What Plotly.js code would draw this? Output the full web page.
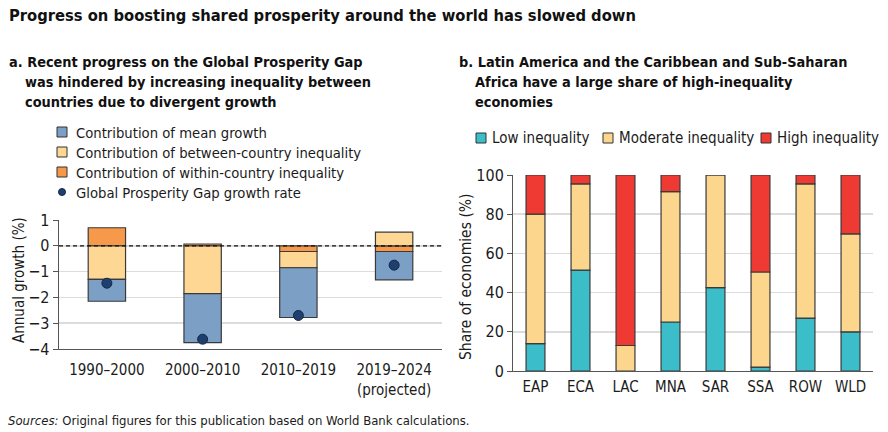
<!DOCTYPE html>
<html>
<head>
<meta charset="utf-8">
<script src="https://cdn.plot.ly/plotly-3.0.1.min.js"></script>
<style>html,body{margin:0;padding:0;background:#fff;}#chart{width:888px;height:432px;}</style>
</head>
<body>
<div id="chart"></div>
<script>
// Panel a data
const periods = ["1990–2000", "2000–2010", "2010–2019", "2019–2024<br>(projected)"];
const meanGrowth = [-0.85, -1.9, -1.93, -1.1];
const betweenIneq = [-1.3, -1.85, -0.63, 0.53];
const withinIneq = [0.7, 0.07, -0.22, -0.22];
const gapGrowth = [-1.45, -3.62, -2.7, -0.75];
const legendA = ["Contribution of mean growth", "Contribution of between-country inequality",
                 "Contribution of within-country inequality", "Global Prosperity Gap growth rate"];

// Panel b data
const regions = ["EAP", "ECA", "LAC", "MNA", "SAR", "SSA", "ROW", "WLD"];
const lowIneq = [14, 51.5, 0, 25, 42.5, 2, 27, 20];
const modIneq = [66, 44, 13, 66.5, 57.5, 48.5, 68.5, 50];
const highIneq = [20, 4.5, 87, 8.5, 0, 49.5, 4.5, 30];
const legendB = ["Low inequality", "Moderate inequality", "High inequality"];

const FONT = "'DejaVu Sans Condensed', 'DejaVu Sans', sans-serif";
const TXT = "#1b1b1b";
const OUT = {color: "#3a3a3a", width: 1.2};
const C_MEAN = "#7b9fc5", C_BETW = "#fed795", C_WITH = "#f6994a", C_DOT = "#1f3f6e";
const C_LOW = "#3bbdca", C_MOD = "#fdd68e", C_HIGH = "#ee3a33";

const traces = [
  {type: "bar", x: periods, y: withinIneq, name: legendA[2], showlegend: false,
   marker: {color: C_WITH, line: OUT}, width: 0.39, xaxis: "x", yaxis: "y"},
  {type: "bar", x: periods, y: betweenIneq, name: legendA[1], showlegend: false,
   marker: {color: C_BETW, line: OUT}, width: 0.39, xaxis: "x", yaxis: "y"},
  {type: "bar", x: periods, y: meanGrowth, name: legendA[0], showlegend: false,
   marker: {color: C_MEAN, line: OUT}, width: 0.39, xaxis: "x", yaxis: "y"},
  {type: "scatter", mode: "markers", x: periods, y: gapGrowth, name: legendA[3], showlegend: false,
   marker: {color: C_DOT, size: 10, line: {color: "#14284a", width: 1}}, xaxis: "x", yaxis: "y"},
  {type: "bar", x: regions, y: lowIneq, name: legendB[0], showlegend: false,
   marker: {color: C_LOW, line: OUT}, width: 0.42, xaxis: "x2", yaxis: "y2"},
  {type: "bar", x: regions, y: modIneq, name: legendB[1], showlegend: false,
   marker: {color: C_MOD, line: OUT}, width: 0.42, xaxis: "x2", yaxis: "y2"},
  {type: "bar", x: regions, y: highIneq, name: legendB[2], showlegend: false,
   marker: {color: C_HIGH, line: OUT}, width: 0.42, xaxis: "x2", yaxis: "y2"}
];

const W = 888, H = 432;
const px = v => v / W, py = v => 1 - v / H;

const shapes = [
  {type: "line", xref: "x domain", yref: "y", x0: 0, x1: 1, y0: 0, y1: 0,
   line: {color: "#111", width: 1.2, dash: "4px,3px"}}
];
const annotations = [];
function txt(t, x, y, size, extra) {
  annotations.push(Object.assign({text: t, xref: "paper", yref: "paper", x: px(x), y: py(y),
    xanchor: "left", yanchor: "middle", showarrow: false, align: "left",
    font: {size: size, color: TXT}}, extra || {}));
}
function keyBox(x, yc, color) {
  shapes.push({type: "rect", xref: "paper", yref: "paper", x0: px(x), x1: px(x + 10),
    y0: py(yc + 5), y1: py(yc - 5), fillcolor: color, line: {color: "#333", width: 1}});
}

// Titles
const HEAD = {size: 16.4, color: "#111"}, SUB = {size: 14.4, color: "#111"};
txt("<b>Progress on boosting shared prosperity around the world has slowed down</b>", 7, 16, 0, {font: HEAD});
txt("<b>a. Recent progress on the Global Prosperity Gap</b>", 7, 62, 0, {font: SUB});
txt("<b>was hindered by increasing inequality between</b>", 23, 82, 0, {font: SUB});
txt("<b>countries due to divergent growth</b>", 23, 102, 0, {font: SUB});
txt("<b>b. Latin America and the Caribbean and Sub-Saharan</b>", 457, 62, 0, {font: SUB});
txt("<b>Africa have a large share of high-inequality</b>", 473, 82, 0, {font: SUB});
txt("<b>economies</b>", 473, 102, 0, {font: SUB});
txt("<i>Sources:</i> Original figures for this publication based on World Bank calculations.", 6, 420, 13);

// Axis titles
txt("Annual growth (%)", 19, 280, 15, {xanchor: "center", textangle: -90});
txt("Share of economies (%)", 466, 277, 15.5, {xanchor: "center", textangle: -90});

// Legend a
const rowsA = [132, 152, 172, 192];
keyBox(57, rowsA[0], C_MEAN);
keyBox(57, rowsA[1], C_BETW);
keyBox(57, rowsA[2], C_WITH);
shapes.push({type: "circle", xref: "paper", yref: "paper", x0: px(58.5), x1: px(65.5),
  y0: py(rowsA[3] + 3.5), y1: py(rowsA[3] - 3.5), fillcolor: C_DOT, line: {color: "#14284a", width: 1}});
legendA.forEach((t, i) => txt(t, 74, rowsA[i], 14.7));

// Legend b
const keyXB = [476, 603, 761];
[C_LOW, C_MOD, C_HIGH].forEach((c, i) => { keyBox(keyXB[i], 138, c); txt(legendB[i], keyXB[i] + 14, 138, 15); });

const layout = {
  width: W, height: H,
  margin: {l: 0, r: 0, t: 0, b: 0},
  paper_bgcolor: "#fff", plot_bgcolor: "#fff",
  barmode: "relative",
  showlegend: false,
  font: {family: FONT, color: TXT, size: 15},
  xaxis: {domain: [px(59), px(442)], anchor: "y", showline: true, linecolor: "#555", linewidth: 1.3,
          ticks: "", ticklabelstandoff: 7, tickfont: {size: 15, color: TXT}, showgrid: false},
  yaxis: {domain: [py(349), py(220)], anchor: "x", range: [-4, 1], dtick: 1, showline: true, linecolor: "#555",
          linewidth: 1.3, ticks: "outside", ticklen: 5, tickcolor: "#555", showgrid: true, gridcolor: "#dcdcdc",
          gridwidth: 1.5, zeroline: false, tickfont: {size: 16, color: TXT}},
  xaxis2: {domain: [px(513), px(873)], anchor: "y2", showline: true, linecolor: "#555", linewidth: 1.3,
           ticks: "", ticklabelstandoff: 2, tickfont: {size: 15, color: TXT}, showgrid: false},
  yaxis2: {domain: [py(371), py(175)], anchor: "x2", range: [0, 100], dtick: 20, showline: true, linecolor: "#555",
           linewidth: 1, ticks: "outside", ticklen: 5, tickcolor: "#555", showgrid: true, gridcolor: "#dcdcdc",
           gridwidth: 1.5, zeroline: false, tickfont: {size: 16, color: TXT}},
  shapes: shapes,
  annotations: annotations
};

Plotly.newPlot("chart", traces, layout, {displayModeBar: false, staticPlot: true});
</script>
</body>
</html>
